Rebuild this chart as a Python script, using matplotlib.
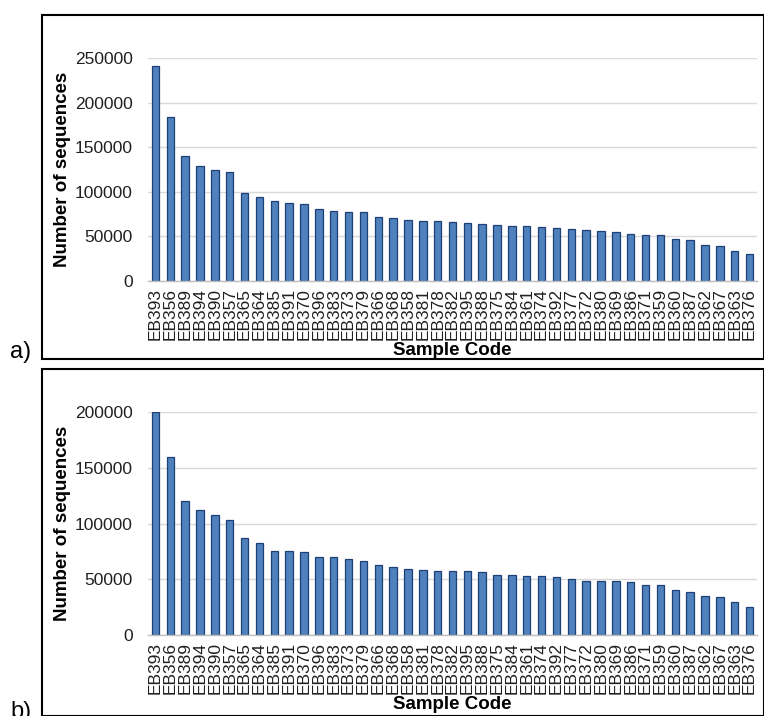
import matplotlib.pyplot as plt
from matplotlib.patches import Rectangle

plt.rcParams["font.family"] = ["Liberation Sans", "DejaVu Sans"]

samples = [
    "EB393", "EB356", "EB389", "EB394", "EB390", "EB357", "EB365", "EB364",
    "EB385", "EB391", "EB370", "EB396", "EB383", "EB373", "EB379", "EB366",
    "EB368", "EB358", "EB381", "EB378", "EB382", "EB395", "EB388", "EB375",
    "EB384", "EB361", "EB374", "EB392", "EB377", "EB372", "EB380", "EB369",
    "EB386", "EB371", "EB359", "EB360", "EB387", "EB362", "EB367", "EB363",
    "EB376",
]

# a) sequences per sample
seqs_a = [
    240600, 183600, 140500, 128900, 124400, 122600, 98600, 94400,
    89600, 87700, 86600, 80600, 78700, 76800, 76800, 71600,
    70300, 68600, 67800, 67100, 66000, 64800, 63700, 63300,
    61500, 61500, 60700, 59600, 58500, 57000, 55800, 54700,
    53200, 51300, 51300, 46900, 45700, 40500, 39700, 33700,
    30700,
]

# b) sequences per sample
seqs_b = [
    199800, 159600, 120400, 112300, 107500, 102700, 87400, 82900,
    75700, 74900, 74300, 70100, 70100, 68600, 66200, 62900,
    61200, 59000, 58100, 57200, 57200, 57200, 56600, 53900,
    53900, 53300, 53300, 51800, 50000, 48500, 48500, 48500,
    47600, 45200, 44600, 40100, 38300, 35000, 34100, 29300,
    24900,
]

W, H = 764, 716
fig = plt.figure(figsize=(W / 100, H / 100), dpi=100)


def px_axes(x0, y0, x1, y1):
    return fig.add_axes([x0 / W, 1 - y1 / H, (x1 - x0) / W, (y1 - y0) / H])


def draw_panel(ax, values, ymax):
    x = range(len(samples))
    ax.bar(x, values, width=0.5, color="#4f81bd", edgecolor="#1f3f77", linewidth=0.9, zorder=3)
    ax.set_xlim(-0.5, len(samples) - 0.5)
    ax.set_ylim(0, ymax)
    ax.set_yticks(range(0, ymax + 1, 50000))
    ax.set_xticks(list(x))
    ax.set_xticklabels(samples, rotation=90, fontsize=12.5, color="#202020")
    ax.tick_params(axis="y", labelsize=12.5, labelcolor="#202020", length=0, pad=11)
    ax.tick_params(axis="x", length=0, pad=5)
    ax.grid(axis="y", color="#d9d9d9", linewidth=1.0, zorder=0)
    for s in ["top", "right", "left"]:
        ax.spines[s].set_visible(False)
    ax.spines["bottom"].set_color("#bfbfbf")
    ax.spines["bottom"].set_linewidth(1.0)
    ax.spines["bottom"].set_zorder(4)
    ax.set_ylabel("Number of sequences", fontsize=13.5, fontweight="bold")
    ax.yaxis.set_label_coords(-0.126, 0.5)
    ax.set_xlabel("Sample Code", fontsize=13.5, fontweight="bold")
    ax.xaxis.set_label_coords(0.5, -0.275)


ax_a = px_axes(148, 58, 757, 281)
draw_panel(ax_a, seqs_a, 250000)

ax_b = px_axes(148, 412, 757, 635)
draw_panel(ax_b, seqs_b, 200000)

# panel frames
for y0, y1 in [(15, 359), (369, 716)]:
    fig.add_artist(Rectangle((42 / W, 1 - y1 / H), (W - 42) / W, (y1 - y0) / H,
                             transform=fig.transFigure, fill=False,
                             edgecolor="black", linewidth=1.5))

fig.text(10 / W, 1 - 363 / H, "a)", fontsize=17, ha="left", va="bottom")
fig.text(10 / W, 1 - 723 / H, "b)", fontsize=17, ha="left", va="bottom")

fig.savefig("out.png", dpi=100)
